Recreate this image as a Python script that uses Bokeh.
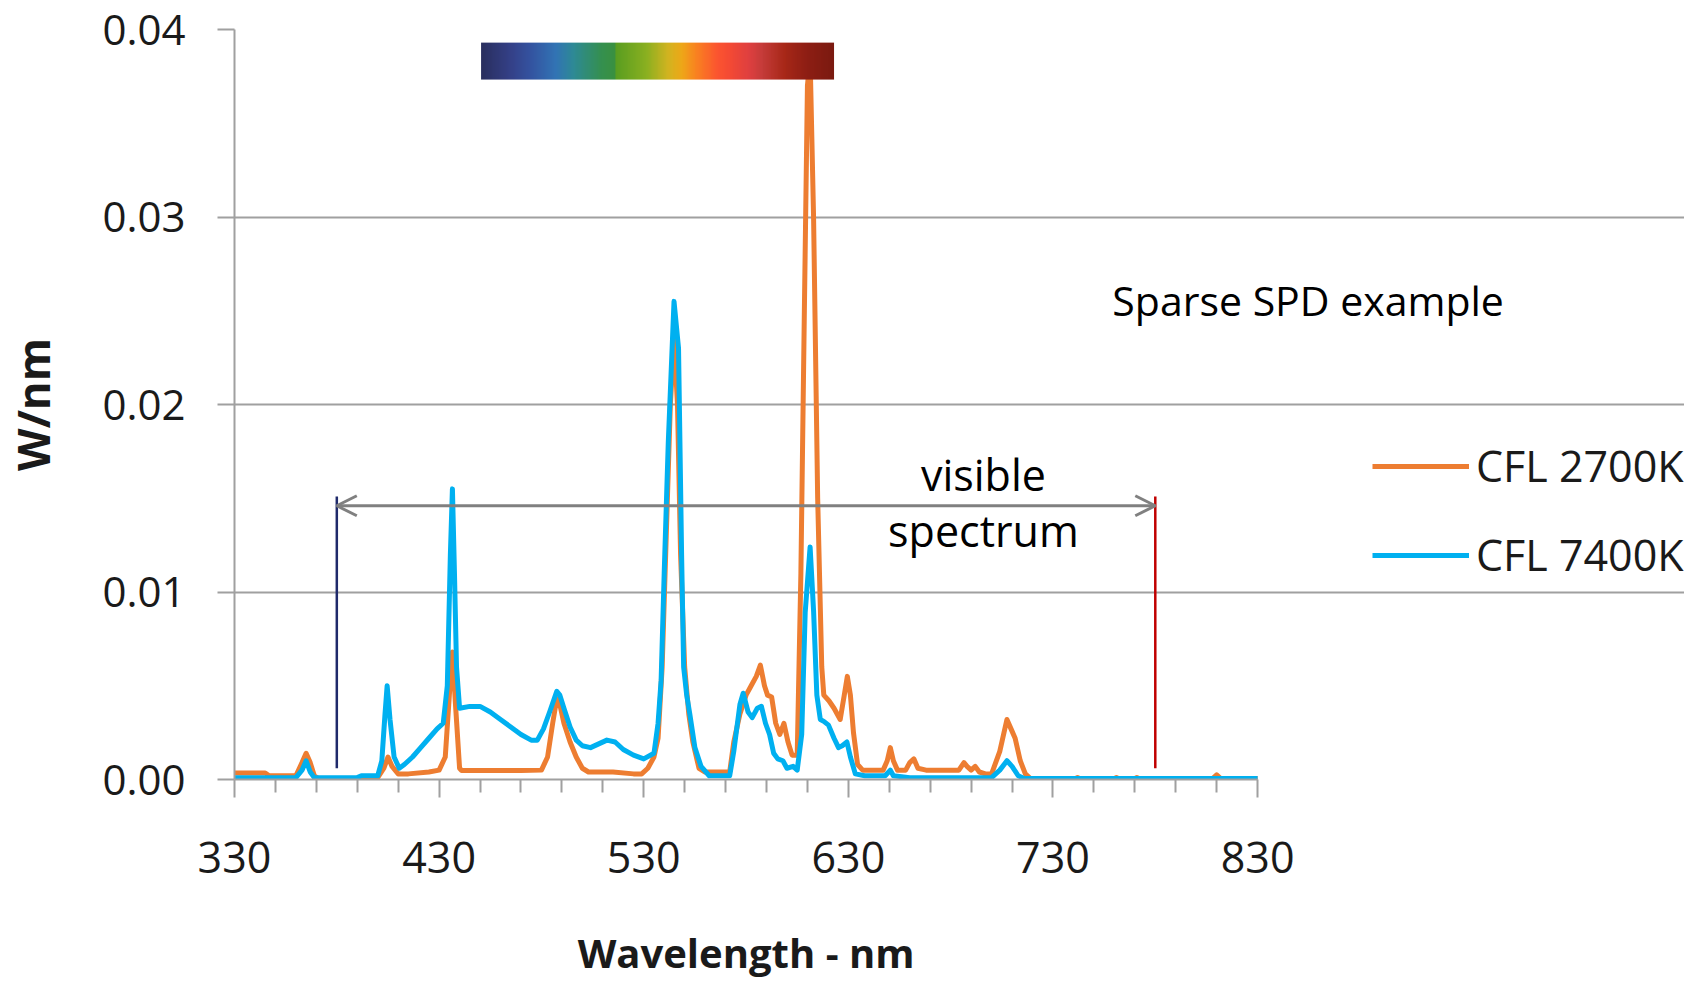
import numpy as np
from bokeh.plotting import figure
from bokeh.layouts import column
from bokeh.models import (Range1d, FixedTicker, PrintfTickFormatter, Legend, LegendItem,
                          Label, Arrow, OpenHead)
from bokeh.embed import file_html
from bokeh.resources import INLINE

# ---------------- data ----------------
wl_2700 = [330, 345, 347, 360, 363, 365, 367, 369, 371, 395, 400, 403, 405, 407, 410, 415, 425, 430,
           433, 435, 436.5, 438, 440, 441, 455, 470, 480, 483, 485.5, 487.5, 489, 491, 494, 497, 500,
           503, 515, 525, 529, 532, 535, 537, 539, 541, 543, 544.8, 546.5, 548, 550, 552, 554, 557,
           560, 572, 574, 577, 580, 582.5, 585, 587, 589, 590.5, 592.5, 594.5, 596.5, 598.5, 600.5,
           602.5, 605, 606.8, 608.5, 610, 611.3, 613, 615, 617, 618, 620.5, 623, 626, 628, 629.5, 631,
           632.5, 634.5, 637, 647, 649, 650.5, 652, 654, 658, 660, 662, 664, 668, 684, 686.5, 688, 690,
           692, 694, 697, 700, 704, 707.5, 709.5, 711.5, 714, 716.5, 719, 741, 742, 743, 760, 761, 762,
           770, 771, 772, 808, 810, 812, 830]
spd_2700 = [0.00035, 0.00035, 0.0002, 0.0002, 0.0009, 0.0014, 0.0009, 0.0002, 0.00005, 0.00005, 0.0001,
            0.0006, 0.0012, 0.0007, 0.0003, 0.0003, 0.0004, 0.0005, 0.0012, 0.0045, 0.0068, 0.0040,
            0.0006, 0.00048, 0.00048, 0.00048, 0.0005, 0.0012, 0.0030, 0.0043, 0.0040, 0.0030, 0.0020,
            0.0012, 0.0006, 0.0004, 0.0004, 0.0003, 0.0003, 0.0006, 0.0012, 0.0022, 0.0060, 0.0130,
            0.0200, 0.0235, 0.0200, 0.0120, 0.0060, 0.0035, 0.0020, 0.0006, 0.0004, 0.0004, 0.0020,
            0.0035, 0.0045, 0.0050, 0.0055, 0.0061, 0.0050, 0.0045, 0.0044, 0.0030, 0.0024, 0.0030,
            0.0020, 0.0013, 0.0013, 0.0110, 0.0250, 0.0370, 0.0385, 0.0300, 0.0150, 0.0060, 0.0045,
            0.0042, 0.0038, 0.0032, 0.0045, 0.0055, 0.0045, 0.0025, 0.0008, 0.0005, 0.0005, 0.0010,
            0.0017, 0.0010, 0.0005, 0.0005, 0.0009, 0.0011, 0.0006, 0.0005, 0.0005, 0.0009, 0.0007,
            0.0005, 0.0007, 0.0004, 0.0003, 0.0003, 0.0015, 0.0032, 0.0027, 0.0022, 0.0010, 0.0003,
            0.00005, 0.00005, 0.0001, 0.00005, 0.00005, 0.0001, 0.00005, 0.00005, 0.0001, 0.00005,
            0.00005, 0.00025, 0.00005, 0.00005]

wl_7400 = [330, 360, 363, 365, 367, 369, 390, 392, 400, 402, 403.5, 404.6, 406, 408, 410.5, 413, 417,
           421, 425, 429, 432, 434, 435.5, 436.5, 437.5, 438.5, 440, 445, 450, 455, 460, 465, 470, 475,
           478, 481, 484, 487.5, 489, 491, 494, 497, 500, 504, 508, 512, 516, 520, 525, 530, 535, 537,
           538.5, 540, 542, 544.8, 547, 548.5, 549.5, 551, 552.5, 555, 558, 562, 572, 574, 577, 578.6,
           581, 583, 585.5, 587.5, 589.5, 591.5, 593.5, 595.5, 598, 600, 603, 605, 607.2, 608.9, 611.3,
           613, 614.6, 616.3, 618, 620.3, 623, 625.2, 627, 629.3, 631, 633.4, 638, 648, 650.5, 652, 660,
           700, 704, 707.5, 710, 713, 716, 830]
spd_7400 = [0.0001, 0.0001, 0.0005, 0.0010, 0.0004, 0.0001, 0.0001, 0.0002, 0.0002, 0.0010, 0.0034,
            0.0050, 0.0032, 0.0012, 0.0006, 0.0008, 0.0012, 0.0017, 0.0022, 0.0027, 0.0030, 0.0050,
            0.0120, 0.0155, 0.0110, 0.0060, 0.0038, 0.0039, 0.0039, 0.0036, 0.0032, 0.0028, 0.0024,
            0.0021, 0.0021, 0.0027, 0.0036, 0.0047, 0.0045, 0.0038, 0.0028, 0.0021, 0.0018, 0.0017,
            0.0019, 0.0021, 0.0020, 0.0016, 0.0013, 0.0011, 0.0014, 0.0030, 0.0053, 0.0110, 0.0180,
            0.0255, 0.0230, 0.0120, 0.0060, 0.0045, 0.0035, 0.0017, 0.0007, 0.0002, 0.0002, 0.0015,
            0.0040, 0.0046, 0.0036, 0.0033, 0.0038, 0.0039, 0.0030, 0.0024, 0.0014, 0.0011, 0.0010,
            0.0006, 0.0007, 0.0005, 0.0024, 0.0089, 0.0124, 0.0090, 0.0045, 0.0032, 0.0031, 0.0029,
            0.0022, 0.0017, 0.0018, 0.0020, 0.0012, 0.0003, 0.0002, 0.0002, 0.0005, 0.0002, 0.0001,
            0.0001, 0.0005, 0.0010, 0.0007, 0.0002, 0.00005, 0.00005]

series_names = ["CFL 2700K", "CFL 7400K"]
x_ticks = [330, 430, 530, 630, 730, 830]
x_minor = [350, 370, 390, 410, 450, 470, 490, 510, 550, 570, 590, 610, 650, 670, 690, 710,
           750, 770, 790, 810]
y_ticks = [0.00, 0.01, 0.02, 0.03, 0.04]
visible_range = [380, 780]
X_AXIS_START, X_AXIS_END = 330, 830
x_title = "Wavelength - nm"
y_title = "W/nm"

# ---------------- styling ----------------
ORANGE = "#ED7D31"
BLUE = "#00B0F0"
GRID = "#a0a0a0"
FONT = "Open Sans"
TXT = "#1a1a1a"

FRAME_W = 1450
PX_PER_NM = 2.0462
X_MAX = X_AXIS_START + FRAME_W / PX_PER_NM   # frame runs on to the right edge (legend/notes live there)
TOP_H = 900                          # height of the main chart canvas
TITLE_H = 81                         # strip holding the x-axis title

p = figure(frame_width=FRAME_W, frame_height=750, x_range=Range1d(X_AXIS_START, X_MAX),
           y_range=Range1d(0, 0.04),
           output_backend="svg", toolbar_location=None,
           min_border_left=230, min_border_right=0, min_border_top=29, min_border_bottom=TOP_H - 779)
p.outline_line_color = None
p.background_fill_color = "white"
p.border_fill_color = "white"

r1 = p.line(wl_2700, spd_2700, line_color=ORANGE, line_width=5, line_join="round")
r2 = p.line(wl_7400, spd_7400, line_color=BLUE, line_width=5, line_join="round")

# spectrum colour bar (decoration)
stops_pos = [0.0, 0.086, 0.137, 0.21, 0.26, 0.34, 0.379, 0.381, 0.466, 0.53, 0.567, 0.605, 0.668,
             0.706, 0.757, 0.795, 0.86, 0.92, 1.0]
stops_col = ["#2A2F5F", "#35428A", "#3453A0", "#3274B5", "#2E8A96", "#359050", "#3A9040", "#5A9E20",
             "#8AB020", "#D4B420", "#EEA818", "#F98520", "#FC5530", "#F44A35", "#E04040", "#C63C3A",
             "#A82818", "#8E1E14", "#7A1A10"]
N = 400
t = np.linspace(0, 1, N)
rgb = np.array([[int(c[i:i + 2], 16) for i in (1, 3, 5)] for c in stops_col], dtype=float)
img = np.empty((1, N), dtype=np.uint32)
view = img.view(dtype=np.uint8).reshape((1, N, 4))
for k in range(3):
    view[0, :, k] = np.interp(t, stops_pos, rgb[:, k]).astype(np.uint8)
view[0, :, 3] = 255
BAR_X0, BAR_X1 = 450.5, 623.0
BAR_Y0, BAR_Y1 = 0.03733, 0.0393
p.image_rgba(image=[img], x=BAR_X0, y=BAR_Y0, dw=BAR_X1 - BAR_X0, dh=BAR_Y1 - BAR_Y0)

# visible spectrum markers
p.segment(x0=[visible_range[0]], y0=[0.0006], x1=[visible_range[0]], y1=[0.0151],
          line_color="#1F2A6B", line_width=2.5)
p.segment(x0=[visible_range[1]], y0=[0.0006], x1=[visible_range[1]], y1=[0.0151],
          line_color="#C00000", line_width=2.5)
p.add_layout(Arrow(start=OpenHead(size=20, line_color="#808080", line_width=3),
                   end=OpenHead(size=20, line_color="#808080", line_width=3),
                   x_start=visible_range[0], x_end=visible_range[1], y_start=0.0146, y_end=0.0146,
                   line_color="#808080", line_width=3))

p.add_layout(Label(x=696, y=0.01625, text="visible", text_align="center", text_baseline="middle",
                   text_font=FONT, text_font_size="43px", text_color="black"))
p.add_layout(Label(x=696, y=0.01326, text="spectrum", text_align="center", text_baseline="middle",
                   text_font=FONT, text_font_size="43px", text_color="black"))
p.add_layout(Label(x=759, y=0.02555, text="Sparse SPD example", text_align="left",
                   text_baseline="middle", text_font=FONT, text_font_size="41px",
                   text_color="black"))

# axes
xa = p.xaxis[0]
xa.bounds = (X_AXIS_START, X_AXIS_END)
xa.ticker = FixedTicker(ticks=x_ticks, minor_ticks=x_minor)
xa.major_label_text_font = FONT
xa.major_label_text_font_size = "43px"
xa.major_label_text_color = TXT
xa.major_label_standoff = 44
xa.axis_line_color = GRID
xa.axis_line_width = 2
xa.major_tick_line_color = GRID
xa.minor_tick_line_color = GRID
xa.major_tick_line_width = 2
xa.minor_tick_line_width = 2
xa.major_tick_in = 0
xa.major_tick_out = 18
xa.minor_tick_in = 0
xa.minor_tick_out = 13

ya = p.yaxis[0]
ya.ticker = FixedTicker(ticks=y_ticks)
ya.formatter = PrintfTickFormatter(format="%.2f")
ya.axis_label = y_title
ya.axis_label_text_font = FONT
ya.axis_label_text_font_style = "bold"
ya.axis_label_text_font_size = "44px"
ya.axis_label_text_color = TXT
ya.axis_label_standoff = 36
ya.major_label_text_font = FONT
ya.major_label_text_font_size = "42px"
ya.major_label_text_color = TXT
ya.major_label_standoff = 32
ya.axis_line_color = GRID
ya.axis_line_width = 2
ya.major_tick_line_color = GRID
ya.major_tick_line_width = 2
ya.major_tick_in = 0
ya.major_tick_out = 17
ya.minor_tick_line_color = None

p.xgrid.grid_line_color = None
p.ygrid.grid_line_color = GRID
p.ygrid.grid_line_width = 2
p.ygrid.ticker = FixedTicker(ticks=y_ticks)
p.ygrid.bounds = (X_AXIS_START, X_AXIS_END)

legend = Legend(items=[LegendItem(label=series_names[0], renderers=[r1]),
                       LegendItem(label=series_names[1], renderers=[r2])],
                location=(1138, 195), orientation="vertical",
                glyph_width=97, glyph_height=20, label_standoff=7, label_height=58,
                spacing=30, padding=0, margin=0,
                label_text_font=FONT, label_text_font_size="43px", label_text_color=TXT,
                label_text_baseline="middle",
                border_line_color=None, background_fill_alpha=0)
p.add_layout(legend)

# strip below the chart carrying the x-axis title, sharing the chart's x scale
t_fig = figure(frame_width=FRAME_W, height=TITLE_H, x_range=p.x_range, y_range=Range1d(0, TITLE_H),
               x_axis_type=None, y_axis_type=None,
               output_backend="svg", toolbar_location=None,
               min_border=0, min_border_left=230, min_border_right=0, min_border_top=0,
               min_border_bottom=0)
t_fig.grid.visible = False
t_fig.outline_line_color = None
t_fig.background_fill_color = "white"
t_fig.border_fill_color = "white"
t_fig.add_layout(Label(x=(X_AXIS_START + X_AXIS_END) / 2, y=TITLE_H - 52, text=x_title,
                       text_align="center", text_baseline="middle",
                       text_font=FONT, text_font_style="bold", text_font_size="40px", text_color=TXT))

layout = column(p, t_fig, spacing=0)
open("out.html", "w").write(file_html(layout, INLINE))
